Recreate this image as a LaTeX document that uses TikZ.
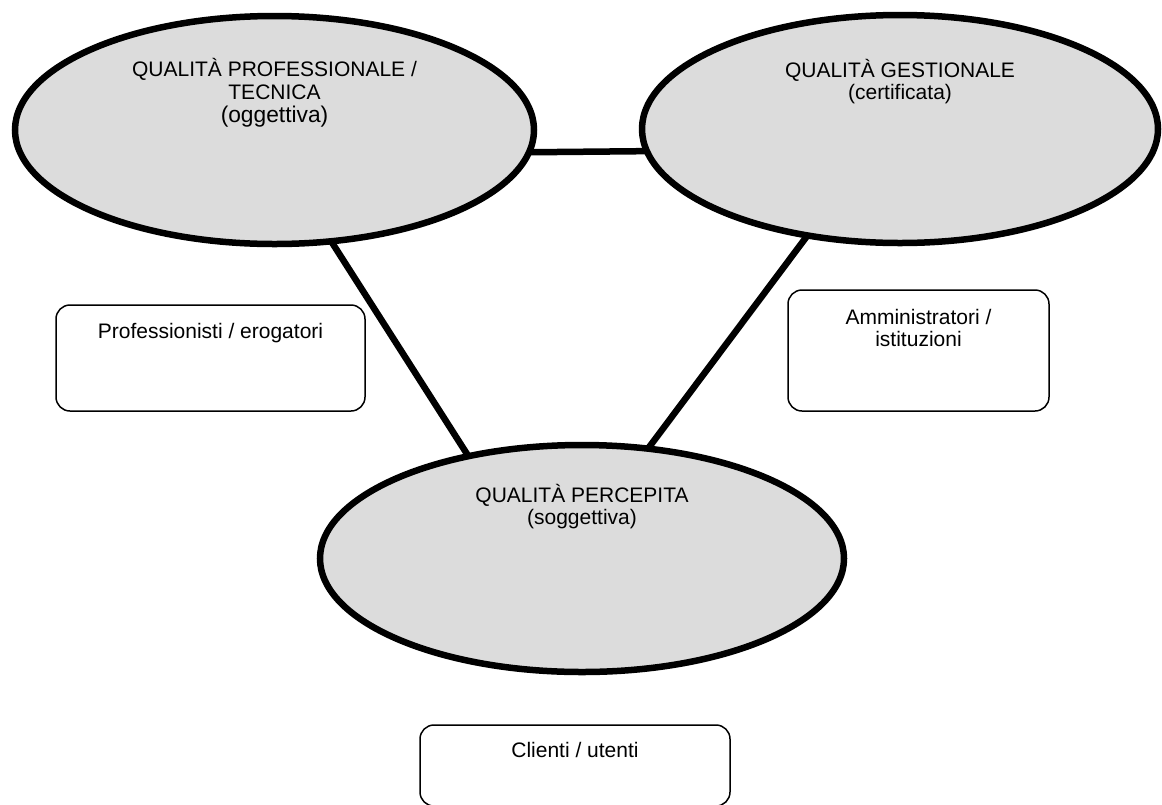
\documentclass[tikz,border=0pt]{standalone}
\usepackage{fontspec}
\setmainfont{Liberation Sans}
\usetikzlibrary{shapes.geometric}
\definecolor{ellgray}{RGB}{220,220,220}
\begin{document}
\begin{tikzpicture}[x=1pt,y=-1pt,
  qual/.style={ellipse, draw=black, fill=ellgray, line width=6.5pt, inner sep=0pt, outer sep=0pt},
  actor/.style={rectangle, rounded corners=14pt, draw=black, line width=1.5pt, fill=white, inner sep=0pt, outer sep=0pt},
  txt/.style={align=center, anchor=base, inner sep=0pt, font=\fontsize{21}{22.75}\selectfont},
  link/.style={line width=6.5pt}]
\useasboundingbox (0,0) rectangle (1162,804);
\clip (0,0) rectangle (1162,804);
\fill[white] (0,0) rectangle (1162,804);

% quality ellipses
\node[qual, minimum width=519pt, minimum height=228pt] (e1) at (274.5,130) {};
\node[qual, minimum width=516pt, minimum height=228pt] (e2) at (900,129) {};
\node[qual, minimum width=524pt, minimum height=227pt] (e3) at (582,558.5) {};

% connectors
\draw[link] (e1.-5.6) -- (e2.185.9);
\draw[link] (e1.-63) -- (e3.138.2);
\draw[link] (e2.-131.4) -- (e3.59.6);

% ellipse texts (anchored on the baseline of the last line)
\node[txt] (t1) at (274.5,122) {QUALITÀ PROFESSIONALE /\\TECNICA\\{\fontsize{22.75}{22.5}\selectfont (oggettiva)}};
\node[txt] (t2) at (900,99.75) {QUALITÀ GESTIONALE\\(certificata)};
\node[txt] (t3) at (582,524.75) {QUALITÀ PERCEPITA\\(soggettiva)};

% actor boxes
\node[actor, minimum width=309pt, minimum height=106pt] (b1) at (210.5,358) {};
\node[actor, minimum width=261pt, minimum height=121pt] (b2) at (918.5,350.5) {};
\node[actor, minimum width=310pt, minimum height=81pt] (b3) at (575,765.5) {};

\node[txt] (s1) at (210.5,338) {Professionisti / erogatori};
\node[txt] (s2) at (918.5,346.75) {Amministratori /\\istituzioni};
\node[txt] (s3) at (575,757) {Clienti / utenti};
\end{tikzpicture}
\end{document}
